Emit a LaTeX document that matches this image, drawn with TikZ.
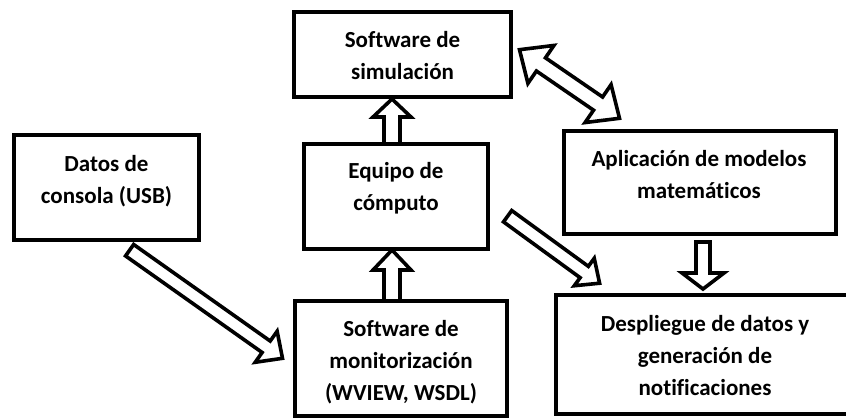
\documentclass[tikz,border=0pt]{standalone}
\usepackage{fontspec}
\setmainfont{Carlito}[Ligatures=NoCommon]
\usetikzlibrary{calc}
% tail, tip, shaft half width, head half width, head length
\newcommand\singlearrow[5]{%
  \draw[barrow] ($(#1)!#3!90:(#2)$) -- ($(#2)!#5!(#1)!#3!90:(#2)$) -- ($(#2)!#5!(#1)!#4!90:(#2)$) -- (#2)
    -- ($(#2)!#5!(#1)!#4!-90:(#2)$) -- ($(#2)!#5!(#1)!#3!-90:(#2)$) -- ($(#1)!#3!-90:(#2)$) -- cycle;}
\newcommand\doublearrow[5]{%
  \draw[barrow] (#1) -- ($(#1)!#5!(#2)!#4!90:(#2)$) -- ($(#1)!#5!(#2)!#3!90:(#2)$) -- ($(#2)!#5!(#1)!#3!90:(#2)$)
    -- ($(#2)!#5!(#1)!#4!90:(#2)$) -- (#2) -- ($(#2)!#5!(#1)!#4!-90:(#2)$) -- ($(#2)!#5!(#1)!#3!-90:(#2)$)
    -- ($(#1)!#5!(#2)!#3!-90:(#2)$) -- ($(#1)!#5!(#2)!#4!-90:(#2)$) -- cycle;}
\begin{document}
\begin{tikzpicture}[x=1pt,y=-1pt,
  box/.style={draw, line width=4pt, inner sep=0pt, fill=white},
  txt/.style={align=center, inner sep=0pt, font=\fontsize{23}{32}\selectfont\bfseries},
  barrow/.style={draw, line width=3.6pt, line join=miter, fill=white}]
\useasboundingbox (0,0) rectangle (846,418);
% boxes
\node[box, minimum width=217pt, minimum height=85pt] (sim) at (402.5,54.5) {};
\node[box, minimum width=185pt, minimum height=105pt] (datos) at (106.5,187.5) {};
\node[box, minimum width=184pt, minimum height=105pt] (equipo) at (396,196.5) {};
\node[box, minimum width=212pt, minimum height=115pt] (monitor) at (401,358.5) {};
\node[box, minimum width=272pt, minimum height=103pt] (aplic) at (700,182.5) {};
\node[box, minimum width=330pt, minimum height=119pt] (desp) at (721,354.5) {};
% texts
\node[txt] (simt) at (402.5,56) {Software de\\simulación};
\node[txt] (datost) at (106.5,181) {Datos de\\consola (USB)};
\node[txt] (equipot) at (396,188) {Equipo de\\cómputo};
\node[txt] (monitort) at (401,362) {Software de\\monitorización\\(WVIEW, WSDL)};
\node[txt] (aplict) at (699,175) {Aplicación de modelos\\matemáticos};
\node[txt] (despt) at (705,356) {Despliegue de datos y\\generación de\\notificaciones};
% arrow end points
\coordinate (a1s) at (392,144);
\coordinate (a1e) at (392,99);
\coordinate (a2s) at (392,301);
\coordinate (a2e) at (392,250);
\coordinate (a3s) at (703,242);
\coordinate (a3e) at (703,289);
\coordinate (a4s) at (129.6,250.2);
\coordinate (a4e) at (282.5,358.3);
\coordinate (a5s) at (507.6,216.2);
\coordinate (a5e) at (599.6,283.2);
\coordinate (a6s) at (519.5,49.7);
\coordinate (a6e) at (619.5,118.3);
% arrows
\singlearrow{a1s}{a1e}{8pt}{19pt}{18pt}
\singlearrow{a2s}{a2e}{8pt}{19pt}{20pt}
\singlearrow{a3s}{a3e}{7pt}{21pt}{16pt}
\singlearrow{a4s}{a4e}{7pt}{19pt}{20pt}
\singlearrow{a5s}{a5e}{7pt}{17pt}{19pt}
\doublearrow{a6s}{a6e}{8pt}{23pt}{26pt}
\end{tikzpicture}
\end{document}
